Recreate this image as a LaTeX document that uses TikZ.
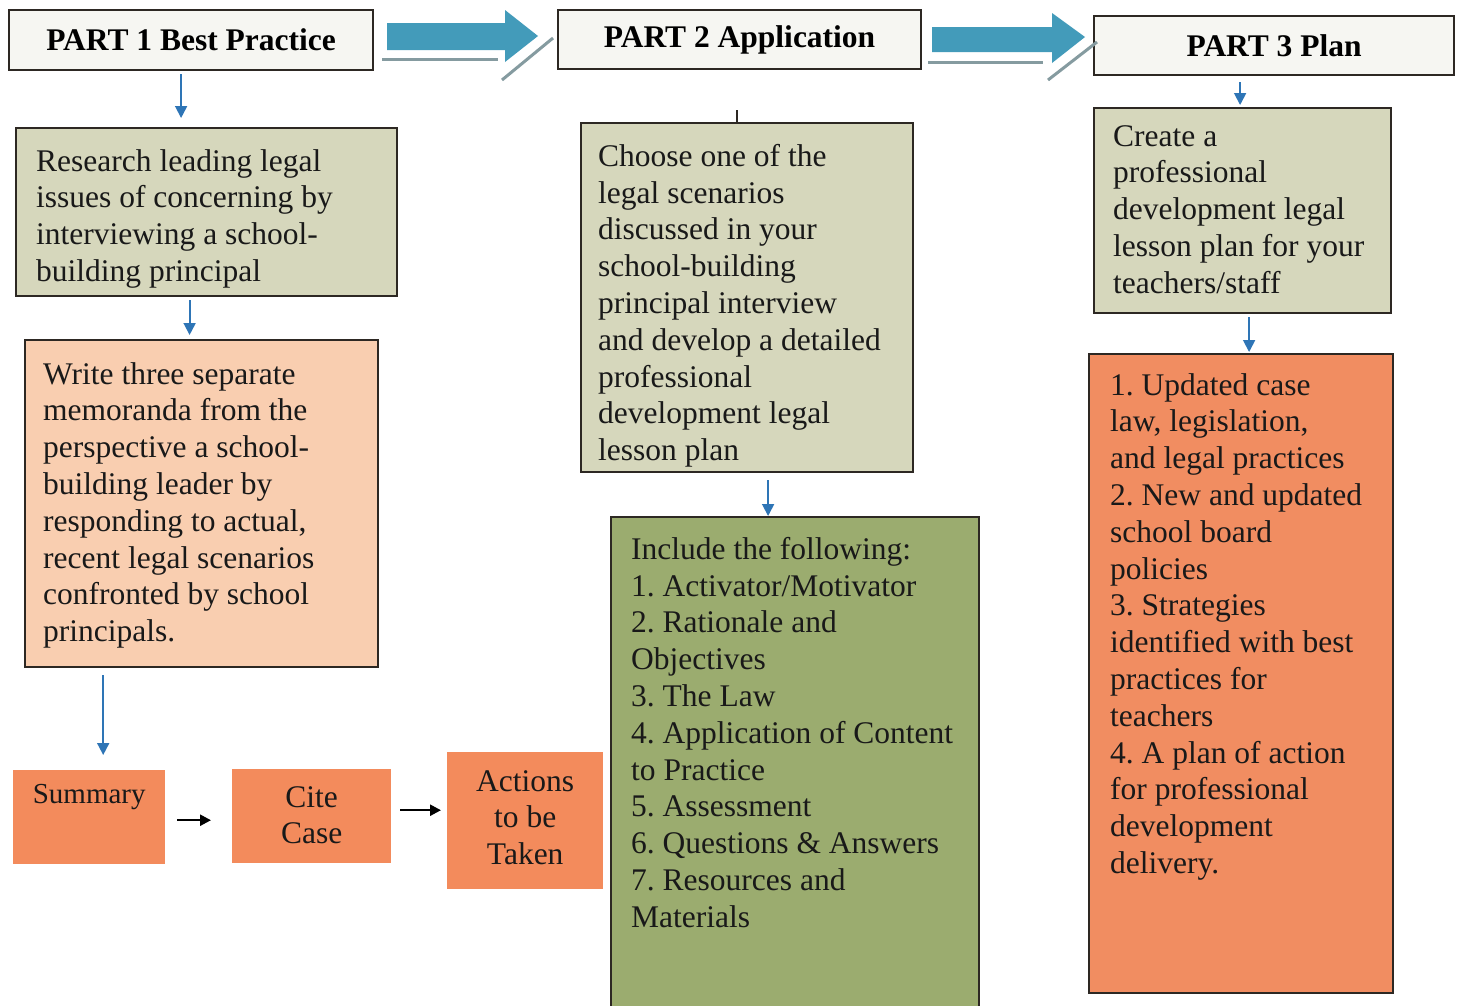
\documentclass[tikz,border=0pt]{standalone}
\usepackage{fontspec}
\setmainfont{Liberation Serif}
\frenchspacing
\usetikzlibrary{arrows.meta,calc}
\definecolor{hdrfill}{RGB}{246,246,242}
\definecolor{beige}{RGB}{214,215,188}
\definecolor{peach}{RGB}{249,206,176}
\definecolor{orng}{RGB}{243,139,92}
\definecolor{listorng}{RGB}{241,141,97}
\definecolor{olive}{RGB}{155,172,111}
\definecolor{bigblue}{RGB}{67,155,186}
\definecolor{smallblue}{RGB}{46,117,182}
\definecolor{grayline}{RGB}{133,155,160}
\definecolor{bord}{RGB}{45,40,35}
\begin{document}
\begin{tikzpicture}[x=1pt,y=-1pt,
  bx/.style={draw=bord, line width=2.2pt, inner sep=0pt, anchor=north west},
  hdr/.style={bx, fill=hdrfill, font=\fontsize{31.5}{36.8}\selectfont\bfseries},
  txt/.style={anchor=north west, inner sep=0pt, align=left, font=\fontsize{31.5}{36.8}\selectfont, text=black!90},
  ctxt/.style={inner sep=0pt, align=center, font=\fontsize{31.5}{36.8}\selectfont, text=black!90},
  obox/.style={fill=orng, draw=none, inner sep=0pt, anchor=north west},
  barrow/.style={draw=smallblue, line width=1.8pt, -{Triangle[length=12pt,width=12pt]}},
  karrow/.style={draw=black, line width=2.4pt, -{Triangle[length=11pt,width=11pt]}},
  gline/.style={draw=grayline, line width=3pt},
  bigarrow/.style={fill=bigblue, draw=none}
]
\useasboundingbox[fill=white] (0,0) rectangle (1463,1005);

% headers
\node[hdr, minimum width=364pt, minimum height=60pt] (p1) at (8,9) {PART 1 Best Practice};
\node[hdr, minimum width=363pt, minimum height=59pt] (p2) at (557,9) {PART 2 Application};
\node[hdr, minimum width=360pt, minimum height=59pt] (p3) at (1093,15) {PART 3 Plan};

% big block arrows
\path[bigarrow] (387,23) -- (505,23) -- (505,10) -- (538,36) -- (505,62) -- (505,50) -- (387,50) -- cycle;
\draw[gline] (382,59) -- (498,59);
\draw[gline] (502,80) -- (553,38);
\path[bigarrow] (932,27) -- (1052,27) -- (1052,13) -- (1085,37) -- (1052,63) -- (1052,52) -- (932,52) -- cycle;
\draw[gline] (928,62) -- (1043,62);
\draw[gline] (1048,80) -- (1097,42);

% column 1
\node[bx, fill=beige, minimum width=381pt, minimum height=168pt] (res) at (15,127) {};
\node[txt] (restxt) at ($(res.north west)+(21,22)$) {Research leading legal\\issues of concerning by\\interviewing a school-\\building principal};

\node[bx, fill=peach, minimum width=353pt, minimum height=327pt] (wri) at (24,339) {};
\node[txt] (writxt) at ($(wri.north west)+(19,23)$) {Write three separate\\memoranda from the\\perspective a school-\\building leader by\\responding to actual,\\recent legal scenarios\\confronted by school\\principals.};

\node[obox, minimum width=152pt, minimum height=94pt] (sum) at (13,770) {};
\node[ctxt, font=\fontsize{29}{34}\selectfont, anchor=north] (sumtxt) at ($(sum.north)+(0,14)$) {Summary};
\node[obox, minimum width=159pt, minimum height=94pt] (cite) at (232,769) {};
\node[ctxt] (citetxt) at ($(cite.center)+(0,-1)$) {Cite\\Case};
\node[obox, minimum width=156pt, minimum height=137pt] (act) at (447,752) {};
\node[ctxt] (acttxt) at ($(act.center)+(0,-3)$) {Actions\\to be\\Taken};

\draw[barrow, shorten <=3pt, shorten >=9pt] ($(p1.south)+(-10,0)$) -- ($(p1.south |- res.north)+(-10,0)$);
\draw[barrow, shorten <=3pt, shorten >=4pt] ($(res.south)+(-17,0)$) -- ($(res.south |- wri.north)+(-17,0)$);
\draw[barrow, shorten <=7pt, shorten >=15pt] (wri.south -| sum.north) ++(14,0) coordinate (w1) -- (sum.north -| w1);
\draw[karrow, shorten <=12pt, shorten >=21pt] ($(sum.east)+(0,3)$) -- ($(sum.east -| cite.west)+(0,3)$);
\draw[karrow, shorten <=9pt, shorten >=6pt] ($(cite.east)+(0,-6)$) -- ($(cite.east -| act.west)+(0,-6)$);

% column 2
\node[bx, fill=beige, minimum width=332pt, minimum height=349pt] (cho) at (580,122) {};
\node[txt] (chotxt) at ($(cho.north west)+(18,22)$) {Choose one of the\\legal scenarios\\discussed in your\\school-building\\principal interview\\and develop a detailed\\professional\\development legal\\lesson plan};
\coordinate (stub) at (737,110);
\draw[line width=1.5pt, bord] (stub) -- (stub |- cho.north);

\node[bx, fill=olive, line width=1.6pt, minimum width=368pt, minimum height=500pt] (inc) at (610,516) {};
\node[txt] (inctxt) at ($(inc.north west)+(21,21)$) {Include the following:\\1. Activator/Motivator\\2. Rationale and\\Objectives\\3. The Law\\4. Application of Content\\to Practice\\5. Assessment\\6. Questions \& Answers\\7. Resources and\\Materials};
\draw[barrow, shorten <=7pt, shorten >=0pt] ($(cho.south)+(21,0)$) -- ($(cho.south |- inc.north)+(21,0)$);

% column 3
\node[bx, fill=beige, minimum width=297pt, minimum height=205pt] (cre) at (1093,107) {};
\node[txt] (cretxt) at ($(cre.north west)+(20,18)$) {Create a\\professional\\development legal\\lesson plan for your\\teachers/staff};
\draw[barrow, shorten <=6pt, shorten >=2pt] ($(p3.south)+(-34,0)$) -- ($(p3.south |- cre.north)+(-34,0)$);

\node[bx, fill=listorng, line width=1.6pt, minimum width=304pt, minimum height=639pt] (lst) at (1088,353) {};
\node[txt] (lsttxt) at ($(lst.north west)+(22,20)$) {1. Updated case\\law, legislation,\\and legal practices\\2. New and updated\\school board\\policies\\3. Strategies\\identified with best\\practices for\\teachers\\4. A plan of action\\for professional\\development\\delivery.};
\draw[barrow, shorten <=3pt, shorten >=1pt] ($(cre.south)+(6.5,0)$) -- ($(cre.south |- lst.north)+(6.5,0)$);
\end{tikzpicture}
\end{document}
